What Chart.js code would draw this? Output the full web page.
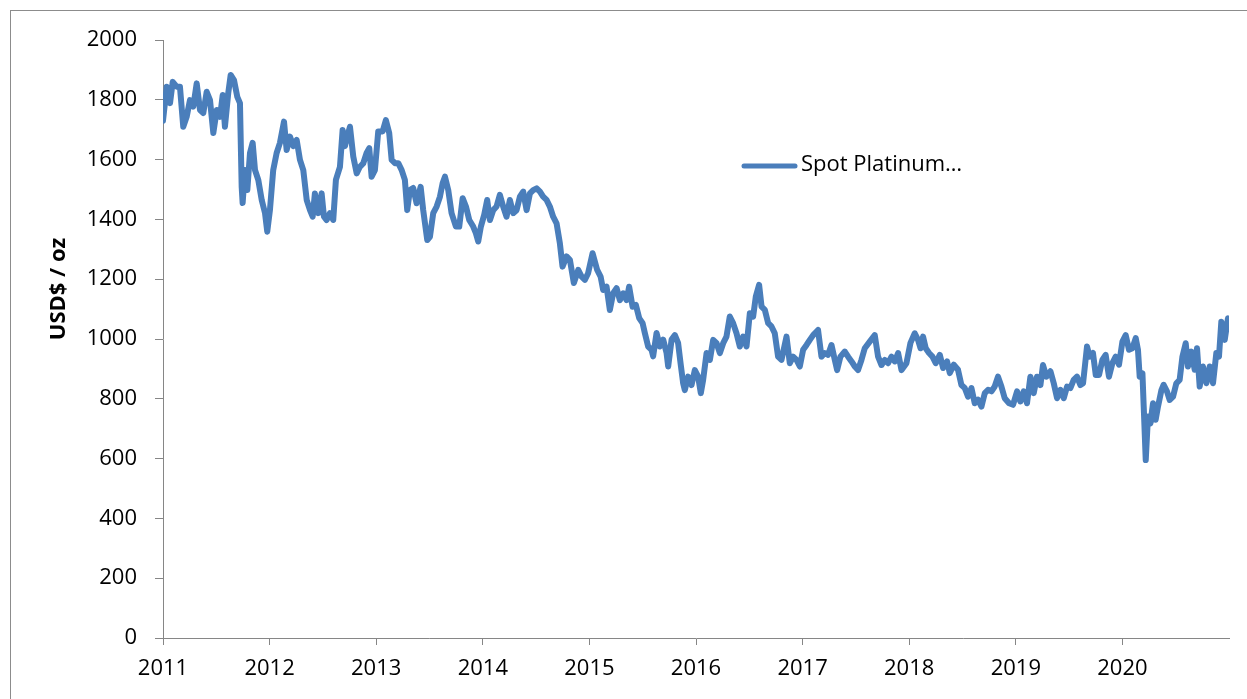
<!DOCTYPE html>
<html>
<head>
<meta charset="utf-8">
<script src="https://cdn.jsdelivr.net/npm/chart.js@4.4.1/dist/chart.umd.min.js"></script>
<style>
html,body{margin:0;padding:0;background:#fff;}
#wrap{width:1247px;height:699px;}
</style>
</head>
<body>
<div id="wrap"><canvas id="c" width="1247" height="699"></canvas></div>
<script>
// ---- data: date within year (fraction of year) and spot price, per year ----
const years = [2011, 2012, 2013, 2014, 2015, 2016, 2017, 2018, 2019, 2020];

const t2011 = [.000,.035,.066,.091,.128,.159,.190,.222,.253,.284,.316,.347,.378,.410,.441,.472,.504,.535,.560,.581,.612,.635,.666,.697,.722,.738,.747,.769,.791,.816,.841,.863,.894,.926,.957,.978];
const p2011 = [1730,1844,1789,1860,1844,1844,1710,1743,1799,1777,1855,1766,1756,1827,1799,1689,1766,1743,1816,1710,1822,1883,1866,1810,1789,1509,1455,1565,1498,1622,1656,1565,1532,1465,1421,1359];

const t2012 = [.003,.034,.066,.097,.135,.160,.191,.222,.254,.285,.316,.348,.379,.404,.425,.456,.488,.510,.535,.566,.597,.622,.660,.685,.707,.728,.754,.785,.817,.847,.878,.910,.935,.957,.988];
const p2012 = [1431,1565,1622,1656,1727,1632,1677,1645,1666,1599,1565,1465,1431,1409,1487,1421,1487,1409,1398,1421,1398,1532,1576,1699,1645,1677,1710,1610,1554,1576,1587,1622,1638,1543,1565];

const t2013 = [.019,.060,.091,.122,.145,.176,.207,.239,.269,.291,.316,.347,.379,.417,.441,.479,.504,.535,.567,.598,.623,.645,.676,.707,.748,.779,.811,.842,.873,.910,.935,.957,.982];
const p2013 = [1694,1694,1732,1689,1599,1588,1588,1565,1532,1431,1498,1505,1454,1509,1431,1331,1342,1421,1443,1476,1521,1543,1498,1421,1376,1376,1471,1443,1398,1376,1354,1326,1376];

const t2014 = [.013,.041,.067,.098,.129,.160,.191,.223,.254,.285,.317,.348,.379,.411,.442,.473,.505,.536,.566,.598,.629,.660,.692,.723,.748,.786,.817,.854,.895,.927,.958,.988];
const p2014 = [1415,1465,1398,1431,1443,1482,1443,1409,1465,1421,1431,1476,1493,1431,1487,1498,1504,1493,1476,1465,1443,1409,1387,1320,1242,1276,1265,1187,1231,1209,1198,1220];

const t2015 = [.030,.073,.105,.129,.161,.192,.223,.255,.286,.317,.349,.373,.405,.436,.467,.499,.520,.551,.583,.598,.630,.661,.692,.724,.739,.771,.802,.832,.855,.879,.895,.926,.958,.989];
const p2015 = [1287,1231,1209,1164,1175,1097,1153,1170,1130,1153,1130,1175,1108,1114,1070,1053,1020,975,964,942,1020,975,998,953,908,998,1013,987,919,853,829,874,846,896];

const t2016 = [.020,.045,.067,.099,.130,.161,.193,.224,.255,.286,.317,.348,.380,.411,.442,.474,.505,.536,.561,.592,.615,.646,.677,.708,.739,.770,.802,.849,.880,.911,.943,.974];
const p2016 = [874,819,863,953,930,997,986,953,986,1008,1075,1053,1019,975,1008,975,1086,1075,1142,1181,1108,1097,1053,1042,1019,941,930,1008,919,941,930,908];

const t2017 = [.005,.037,.068,.099,.145,.177,.208,.239,.271,.302,.324,.355,.396,.427,.459,.490,.520,.552,.583,.630,.677,.708,.740,.771,.802,.834,.865,.896,.928,.974];
const p2017 = [964,980,997,1013,1030,941,953,947,980,930,896,941,958,941,925,908,896,930,969,991,1013,941,913,930,919,941,925,953,896,919];

const t2018 = [.012,.052,.083,.106,.130,.155,.186,.218,.249,.287,.318,.355,.381,.418,.458,.490,.521,.552,.584,.615,.646,.678,.709,.740,.772,.802,.833,.865,.896,.937,.974];
const p2018 = [987,1019,997,969,1008,969,953,941,919,947,903,925,886,914,897,846,836,807,836,785,797,774,819,830,825,841,874,841,802,785,780];

const t2019 = [.012,.043,.074,.105,.137,.168,.199,.231,.255,.287,.325,.356,.387,.419,.450,.481,.512,.543,.574,.606,.631,.668,.693,.724,.750,.781,.812,.843,.874,.906,.937,.968];
const p2019 = [825,791,825,785,874,819,874,846,913,874,892,852,802,830,802,841,836,863,874,846,852,975,941,953,880,880,930,947,874,919,941,914];

const t2020 = [.000,.031,.062,.094,.125,.146,.162,.188,.200,.219,.240,.263,.287,.312,.334,.366,.387,.418,.444,.475,.506,.537,.563,.594,.615,.647,.678,.700,.725,.756,.788,.819,.850,.881,.906,.928,.960,.990];
const p2020 = [991,1013,964,969,1003,964,874,885,774,595,741,718,785,730,774,829,847,825,796,807,852,863,941,986,908,958,897,969,841,908,852,908,852,953,941,1058,997,1069];

const xTickLabels = ['2011','2012','2013','2014','2015','2016','2017','2018','2019','2020'];
const yTickValues = [0,200,400,600,800,1000,1200,1400,1600,1800,2000];
const seriesLabel = 'Spot Platinum\u2026';
const yTitle = 'USD$ / oz';

// ---- build ----
const dateArrays = [t2011,t2012,t2013,t2014,t2015,t2016,t2017,t2018,t2019,t2020];
const priceArrays = [p2011,p2012,p2013,p2014,p2015,p2016,p2017,p2018,p2019,p2020];
const points = [];
years.forEach((yr, i) => {
  dateArrays[i].forEach((f, j) => points.push({x: yr + f, y: priceArrays[i][j]}));
});

const LINE = '#4a7ebb';
const AXIS = '#868686';
const FONT = "'Open Sans', 'DejaVu Sans', sans-serif";

const decor = {
  id: 'decor',
  beforeDraw(chart) {
    const ctx = chart.ctx;
    ctx.save();
    ctx.fillStyle = '#fff';
    ctx.fillRect(0, 0, chart.width, chart.height);
    ctx.strokeStyle = '#8c8c8c';
    ctx.lineWidth = 1;
    ctx.strokeRect(10.5, 10.5, chart.width + 50, chart.height + 50);
    ctx.restore();
  },
  afterDraw(chart) {
    const ctx = chart.ctx;
    ctx.save();
    // y-axis title
    ctx.translate(59, 289);
    ctx.rotate(-Math.PI / 2);
    ctx.font = "bold 22px " + FONT;
    ctx.fillStyle = '#000';
    ctx.textAlign = 'center';
    ctx.textBaseline = 'middle';
    ctx.fillText(yTitle, 0, 0);
    ctx.restore();
    // legend
    const ds = chart.data.datasets[0];
    ctx.save();
    ctx.strokeStyle = ds.borderColor;
    ctx.lineWidth = 5;
    ctx.lineCap = 'round';
    ctx.beginPath();
    ctx.moveTo(744, 166);
    ctx.lineTo(795, 166);
    ctx.stroke();
    ctx.font = "22px " + FONT;
    ctx.fillStyle = '#000';
    ctx.textAlign = 'left';
    ctx.textBaseline = 'middle';
    ctx.fillText(ds.label, 801, 165);
    ctx.restore();
  }
};

new Chart(document.getElementById('c'), {
  type: 'line',
  data: {
    datasets: [{
      label: seriesLabel,
      data: points,
      borderColor: LINE,
      backgroundColor: LINE,
      borderWidth: 6,
      pointRadius: 0,
      tension: 0,
      borderJoinStyle: 'round',
      borderCapStyle: 'round',
      fill: false
    }]
  },
  options: {
    responsive: false,
    animation: false,
    layout: { padding: { left: 0, top: 40, right: 18, bottom: 0 } },
    plugins: { legend: { display: false }, tooltip: { enabled: false } },
    scales: {
      x: {
        type: 'linear',
        min: 2011,
        max: 2021,
        afterFit(scale) { scale.height = 61; },
        afterBuildTicks(scale) {
          scale.ticks = xTickLabels.map(l => ({value: Number(l)})).concat([{value: 2021}]);
        },
        ticks: {
          autoSkip: false,
          maxRotation: 0,
          padding: 11,
          color: '#000',
          font: { family: FONT, size: 22 },
          callback: (v) => xTickLabels.includes(String(v)) ? String(v) : ''
        },
        grid: {
          drawOnChartArea: false,
          drawTicks: true,
          tickLength: 7,
          color: (c) => (c.tick && c.tick.value === 2021) ? 'rgba(0,0,0,0)' : AXIS
        },
        border: { display: true, color: AXIS, width: 1 }
      },
      y: {
        type: 'linear',
        min: 0,
        max: 2000,
        afterFit(scale) { scale.width = 163; },
        afterBuildTicks(scale) {
          scale.ticks = yTickValues.map(v => ({value: v}));
        },
        ticks: {
          padding: 18,
          color: '#000',
          font: { family: FONT, size: 22 },
          callback: (v) => String(v)
        },
        grid: {
          drawOnChartArea: false,
          drawTicks: true,
          tickLength: 8,
          color: AXIS
        },
        border: { display: true, color: AXIS, width: 1 }
      }
    }
  },
  plugins: [decor]
});
</script>
</body>
</html>
